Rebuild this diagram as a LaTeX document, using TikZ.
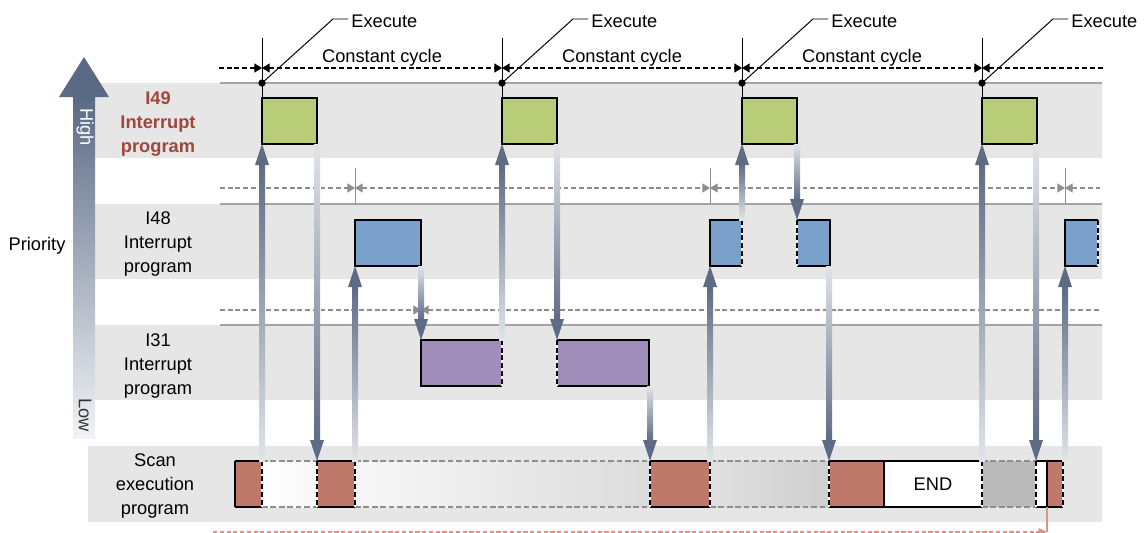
\documentclass[tikz,border=0pt]{standalone}
\usepackage{fontspec}
\setmainfont{Liberation Sans}
\usepackage{xcolor}
\usepackage{tikz}
\usetikzlibrary{positioning,arrows.meta,calc}

\definecolor{bandgray}{HTML}{E6E6E6}
\definecolor{bandedge}{HTML}{A3A3A3}
\definecolor{guidegray}{HTML}{8E8E8E}
\definecolor{i49green}{HTML}{B9CC78}
\definecolor{i48blue}{HTML}{7BA1CA}
\definecolor{i31purple}{HTML}{A08DB9}
\definecolor{scanred}{HTML}{BF796A}
\definecolor{labelred}{HTML}{A0463C}
\definecolor{flowdark}{HTML}{5D6B85}
\definecolor{flowlight}{HTML}{E2E4E8}
\definecolor{priotop}{HTML}{5A6A85}
\definecolor{priobottom}{HTML}{F2F3F6}
\definecolor{cyclered}{HTML}{DB9484}

\newcommand{\unitpx}{0.025cm}

\tikzset{
  band/.style={fill=bandgray},
  bandline/.style={draw=bandedge, line width=1.4pt},
  guide/.style={draw=guidegray, line width=0.8pt, dash pattern=on 3.5pt off 2pt},
  dimline/.style={line width=0.8pt, dash pattern=on 3.5pt off 2pt},
  dimtip/.tip={Triangle[length=5.5pt,width=6.5pt]},
  job/.style={inner sep=0pt, outer sep=0pt, anchor=north west, minimum height=46*\unitpx},
  jobedge/.style={draw=black, line width=1.3pt},
  jobline/.style={draw=black, line width=1.3pt, line join=miter},
  cutbase/.style={draw=white, line width=1.3pt},
  cutline/.style={draw=black, line width=1.3pt, dash pattern=on 3.5pt off 2pt},
  pause/.style={draw=guidegray, line width=1pt, dash pattern=on 4pt off 2pt},
  lbl/.style={align=center}
}

% dashed edge where a program is cut off
\newcommand{\cutedge}[2]{%
  \draw[cutbase] (#1) -- (#2);
  \draw[cutline] (#1) -- (#2);}
% shaded flow arrows: #1 tail, #2 head
\newcommand{\flowup}[2]{%
  \shade[top color=flowdark, bottom color=flowlight] ($(#2 |- #1)+(-3,0)$) rectangle ($(#2)+(3,20)$);
  \fill[flowdark] (#2) -- ++(-7,21) -- ++(14,0) -- cycle;}
\newcommand{\flowdown}[2]{%
  \shade[top color=flowlight, bottom color=flowdark] ($(#2 |- #1)+(-3,0)$) rectangle ($(#2)+(3,-20)$);
  \fill[flowdark] (#2) -- ++(-7,-21) -- ++(14,0) -- cycle;}

\begin{document}
\begin{tikzpicture}[x=\unitpx, y=-\unitpx, font=\fontsize{13}{17}\selectfont]
\useasboundingbox (0,0) rectangle (1147,533);

% priority bands
\fill[band] (95,83) rectangle (1102,158);
\fill[band] (95,204) rectangle (1102,279);
\fill[band] (95,325) rectangle (1102,400);
\fill[band] (88,446) rectangle (1102,522);
\foreach \y in {83,204,325} \draw[bandline] (220,\y) -- (1102,\y);

% priority arrow
\shade[top color=priotop, bottom color=priobottom] (73,96) rectangle (95,438);
\fill[priotop] (84,57) -- (109,97) -- (59,97) -- cycle;
\node[rotate=-90, text=white] (high) at (85,127) {High};
\node[rotate=-90, text=black!80] (low) at (85,415) {Low};
\node (prio) at (37,246) {Priority};

% row labels
\node[lbl, text=labelred, font=\fontsize{13}{17}\selectfont\bfseries] (l49) at (158,124) {I49\\Interrupt\\program};
\node[lbl] (l48) at (158,244) {I48\\Interrupt\\program};
\node[lbl] (l31) at (158,366) {I31\\Interrupt\\program};
\node[lbl] (lscan) at (155,486) {Scan\\execution\\program};

% execute marks and constant cycle
\foreach \x in {262,502,742,982} {
  \draw[line width=0.7pt] (\x,38) -- (\x,98);
  \fill (\x,83) circle (2.6pt);
  \draw[line width=0.7pt] (\x,83) -- (\x+71,19) -- (\x+86,19) node[right, inner sep=2pt, yshift=-1.5pt] (ex\x) {Execute};
}
\draw[dimline, -dimtip] (219,68) -- (262,68);
\foreach \a/\b in {262/502,502/742,742/982} {
  \draw[dimline, dimtip-dimtip] (\a,68) -- (\b,68);
  \node (cc\a) at ({(\a+\b)/2},58) {Constant cycle};
}
\draw[dimline, dimtip-] (982,68) -- (1103,68);

% start marks of I48 and I31
\draw[guide, -dimtip] (220,188) -- (355,188);
\draw[guide, dimtip-dimtip] (355,188) -- (710,188);
\draw[guide, dimtip-dimtip] (710,188) -- (1065,188);
\draw[guide, dimtip-] (1065,188) -- (1100,188);
\foreach \x in {355,710,1065} \draw[draw=guidegray, line width=0.6pt] (\x,168) -- (\x,204);
\draw[guide, -dimtip] (220,310) -- (421,310);
\draw[guide, dimtip-] (421,310) -- (1100,310);

% interrupt programs
\foreach \x [count=\i] in {262,502,742,982}
  \node[job, jobedge, fill=i49green, minimum width=55*\unitpx] (g\i) at (\x,98) {};
\node[job, jobedge, fill=i48blue, minimum width=66*\unitpx] (b1) at (355,220) {};
\node[job, fill=i48blue, minimum width=32*\unitpx] (b2) at (710,220) {};
\node[job, fill=i48blue, minimum width=33*\unitpx] (b3) at (797,220) {};
\node[job, fill=i48blue, minimum width=33*\unitpx] (b4) at (1065,220) {};
\node[job, fill=i31purple, minimum width=81*\unitpx] (p1) at (421,340) {};
\node[job, fill=i31purple, minimum width=92*\unitpx] (p2) at (557,340) {};
\foreach \s in {b2,b4,p1} {
  \draw[jobline] (\s.north east) -- (\s.north west) -- (\s.south west) -- (\s.south east);
  \cutedge{\s.north east}{\s.south east}
}
\foreach \s in {b3,p2} {
  \draw[jobline] (\s.north west) -- (\s.north east) -- (\s.south east) -- (\s.south west);
  \cutedge{\s.north west}{\s.south west}
}

% scan execution program
\node[job, fill=scanred, minimum width=27*\unitpx] (r1) at (235,461) {};
\node[job, left color=white, right color=black!3, minimum width=55*\unitpx] (k1) at (262,461) {};
\node[job, fill=scanred, minimum width=38*\unitpx] (r2) at (317,461) {};
\node[job, left color=black!3, right color=black!14, minimum width=295*\unitpx] (k2) at (355,461) {};
\node[job, fill=scanred, minimum width=60*\unitpx] (r3) at (650,461) {};
\node[job, left color=black!12, right color=black!19, minimum width=119*\unitpx] (k3) at (710,461) {};
\node[job, fill=scanred, minimum width=55*\unitpx] (r4) at (829,461) {};
\node[job, fill=white, minimum width=98*\unitpx] (e1) at (884,461) {END};
\node[job, fill=black!27, minimum width=54*\unitpx] (gy) at (982,461) {};
\node[job, fill=white, minimum width=11*\unitpx] (w1) at (1036,461) {};
\node[job, fill=scanred, minimum width=16*\unitpx] (r5) at (1047,461) {};
\foreach \s in {r1,r2,r3,r4,e1,w1,r5} {
  \draw[jobline] (\s.north west) -- (\s.north east);
  \draw[jobline] (\s.south west) -- (\s.south east);
}
\foreach \s in {k1,k2,k3,gy} {
  \draw[pause] (\s.north west) -- (\s.north east);
  \draw[pause] (\s.south west) -- (\s.south east);
}
\foreach \s in {r1.west,r4.east,w1.east}
  \draw[jobline] (\s |- r1.north) -- (\s |- r1.south);
\foreach \s/\c in {r1/east,r2/west,r2/east,r3/west,r3/east,r4/west,e1/east,gy/east,r5/east} {
  \cutedge{\s.north \c}{\s.south \c}
}

% transitions
\flowup{r1.north east}{g1.south west}
\flowdown{g1.south east}{r2.north west}
\flowup{r2.north east}{b1.south west}
\flowdown{b1.south east}{p1.north west}
\flowup{p1.north east}{g2.south west}
\flowdown{g2.south east}{p2.north west}
\flowdown{p2.south east}{r3.north west}
\flowup{r3.north east}{b2.south west}
\flowup{b2.north east}{g3.south west}
\flowdown{g3.south east}{b3.north west}
\flowdown{b3.south east}{r4.north west}
\flowup{e1.north east}{g4.south west}
\flowdown{g4.south east}{gy.north east}
\flowup{r5.north east}{b4.south west}

% scan cycle
\coordinate (cycend) at (r5.south west |- 0,531.8);
\draw[cyclered, line width=1pt, dash pattern=on 3pt off 1.8pt, -{Triangle[length=6pt,width=5pt]}] (213,531.8) -- (cycend);
\draw[cyclered, line width=0.8pt] (r5.south west) -- (cycend);
\end{tikzpicture}
\end{document}
